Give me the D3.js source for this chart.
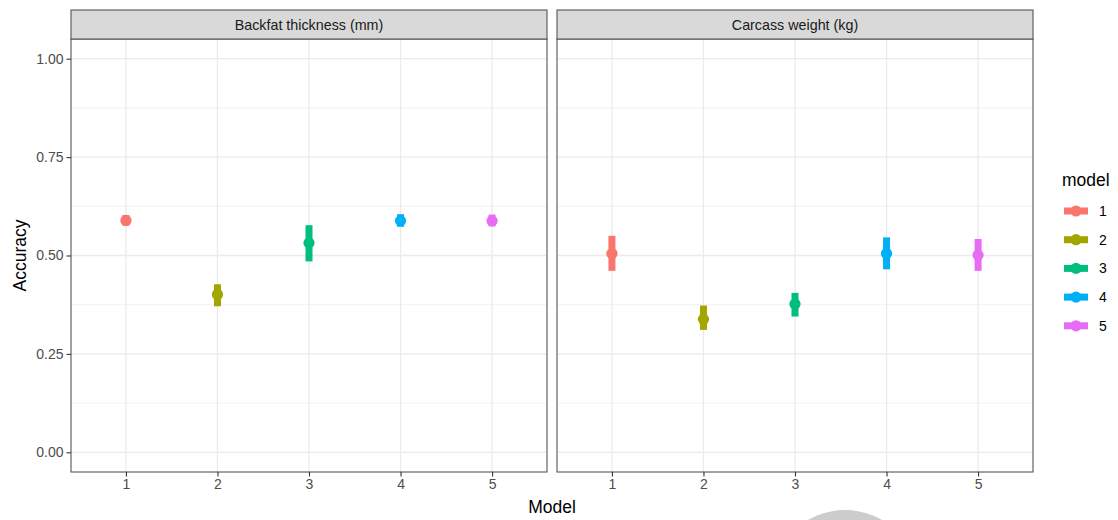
<!DOCTYPE html>
<html>
<head>
<meta charset="utf-8">
<script src="https://cdn.jsdelivr.net/npm/d3@7"></script>
<style>
  body { margin: 0; background: #fff; }
  svg { font-family: "Liberation Sans", Arial, sans-serif; }
</style>
</head>
<body>
<svg width="1118" height="520"></svg>
<script>
// facet names, models and values
var panels = ["Backfat thickness (mm)", "Carcass weight (kg)"];
var models = ["1", "2", "3", "4", "5"];
var colors = ["#F8766D", "#A3A500", "#00BF7D", "#00B0F6", "#E76BF3"];

var backfatMean = [0.589, 0.401, 0.532, 0.588, 0.588];
var backfatLow  = [0.576, 0.371, 0.485, 0.573, 0.574];
var backfatHigh = [0.603, 0.427, 0.577, 0.605, 0.604];

var carcassMean = [0.505, 0.338, 0.377, 0.505, 0.501];
var carcassLow  = [0.461, 0.311, 0.345, 0.465, 0.461];
var carcassHigh = [0.550, 0.373, 0.405, 0.546, 0.542];

var yTicks = [0, 0.25, 0.5, 0.75, 1];
var yMinor = [0.125, 0.375, 0.625, 0.875];

var svg = d3.select("svg");

// note: "top" is taken by window.top, so use plotTop
var plotTop = 39, plotBottom = 472, stripTop = 10;
var panelX = [[71, 547], [557, 1033]];

var y = d3.scaleLinear().domain([-0.05, 1.05]).range([plotBottom, plotTop]);

var series = [
  {mean: backfatMean, low: backfatLow, high: backfatHigh},
  {mean: carcassMean, low: carcassLow, high: carcassHigh}
];

panels.forEach(function (name, i) {
  var x = d3.scalePoint().domain(models).range(panelX[i]).padding(0.6);
  var g = svg.append("g").attr("class", "panel");
  var x0 = panelX[i][0], x1 = panelX[i][1];

  // grid
  g.selectAll(".minor").data(yMinor).enter().append("line")
    .attr("x1", x0).attr("x2", x1)
    .attr("y1", function (d) { return y(d); }).attr("y2", function (d) { return y(d); })
    .attr("stroke", "#EBEBEB").attr("stroke-width", 0.7);
  g.selectAll(".major").data(yTicks).enter().append("line")
    .attr("x1", x0).attr("x2", x1)
    .attr("y1", function (d) { return y(d); }).attr("y2", function (d) { return y(d); })
    .attr("stroke", "#EBEBEB").attr("stroke-width", 1.3);
  g.selectAll(".vmajor").data(models).enter().append("line")
    .attr("x1", function (d) { return x(d); }).attr("x2", function (d) { return x(d); })
    .attr("y1", plotTop).attr("y2", plotBottom)
    .attr("stroke", "#EBEBEB").attr("stroke-width", 1.3);

  // pointranges
  var s = series[i];
  var pr = g.selectAll(".pr").data(models).enter().append("g");
  pr.append("line")
    .attr("x1", function (d) { return x(d); }).attr("x2", function (d) { return x(d); })
    .attr("y1", function (d, k) { return y(s.low[k]); })
    .attr("y2", function (d, k) { return y(s.high[k]); })
    .attr("stroke", function (d, k) { return colors[k]; })
    .attr("stroke-width", 7);
  pr.append("circle")
    .attr("cx", function (d) { return x(d); })
    .attr("cy", function (d, k) { return y(s.mean[k]); })
    .attr("r", 5.6)
    .attr("fill", function (d, k) { return colors[k]; });

  // border
  g.append("rect")
    .attr("x", x0).attr("y", plotTop).attr("width", x1 - x0).attr("height", plotBottom - plotTop)
    .attr("fill", "none").attr("stroke", "#555").attr("stroke-width", 1.1);

  // strip
  g.append("rect")
    .attr("x", x0).attr("y", stripTop).attr("width", x1 - x0).attr("height", plotTop - stripTop)
    .attr("fill", "#D9D9D9").attr("stroke", "#555").attr("stroke-width", 1.1);
  g.append("text")
    .attr("x", (x0 + x1) / 2).attr("y", (stripTop + plotTop) / 2)
    .attr("dy", "0.35em").attr("text-anchor", "middle")
    .attr("font-size", "14.3px").attr("fill", "#1A1A1A")
    .text(name);

  // x axis
  var xa = g.append("g").attr("transform", "translate(0," + plotBottom + ")")
    .call(d3.axisBottom(x).tickSize(4.5).tickPadding(3));
  xa.select(".domain").remove();
  xa.selectAll("line").attr("stroke", "#333").attr("stroke-width", 1.1);
  xa.selectAll("text").attr("font-size", "14px").attr("fill", "#4D4D4D")
    .attr("font-family", "Liberation Sans, Arial, sans-serif");

  if (i === 0) {
    var ya = g.append("g").attr("transform", "translate(" + x0 + ",0)")
      .call(d3.axisLeft(y).tickValues(yTicks).tickFormat(d3.format(".2f")).tickSize(4.5).tickPadding(3));
    ya.select(".domain").remove();
    ya.selectAll("line").attr("stroke", "#333").attr("stroke-width", 1.1);
    ya.selectAll("text").attr("font-size", "14px").attr("fill", "#4D4D4D")
      .attr("font-family", "Liberation Sans, Arial, sans-serif");
  }
});

// axis titles
svg.append("text")
  .attr("x", (panelX[0][0] + panelX[1][1]) / 2).attr("y", 513)
  .attr("text-anchor", "middle").attr("font-size", "17.5px").attr("fill", "#000")
  .text("Model");
svg.append("text")
  .attr("transform", "translate(26," + y(0.5) + ") rotate(-90)")
  .attr("text-anchor", "middle").attr("font-size", "17.5px").attr("fill", "#000")
  .text("Accuracy");

// legend
var legend = svg.append("g").attr("transform", "translate(1062,0)");
legend.append("text")
  .attr("x", 0).attr("y", 186)
  .attr("font-size", "17.5px").attr("fill", "#000")
  .text("model");
var key = legend.selectAll(".key").data(models).enter().append("g")
  .attr("transform", function (d, k) { return "translate(0," + (211 + k * 28.7) + ")"; });
key.append("line")
  .attr("x1", 2).attr("x2", 26).attr("y1", 0).attr("y2", 0)
  .attr("stroke", function (d, k) { return colors[k]; })
  .attr("stroke-width", 7);
key.append("circle")
  .attr("cx", 14).attr("cy", 0).attr("r", 5.6)
  .attr("fill", function (d, k) { return colors[k]; });
key.append("text")
  .attr("x", 37).attr("y", 0).attr("dy", "0.35em")
  .attr("font-size", "14px").attr("fill", "#000")
  .text(function (d) { return d; });

// grey circle partly visible at the bottom edge of the picture
svg.append("circle")
  .attr("cx", 845).attr("cy", 583).attr("r", 73)
  .attr("fill", "#CCCCCC");
</script>
</body>
</html>
